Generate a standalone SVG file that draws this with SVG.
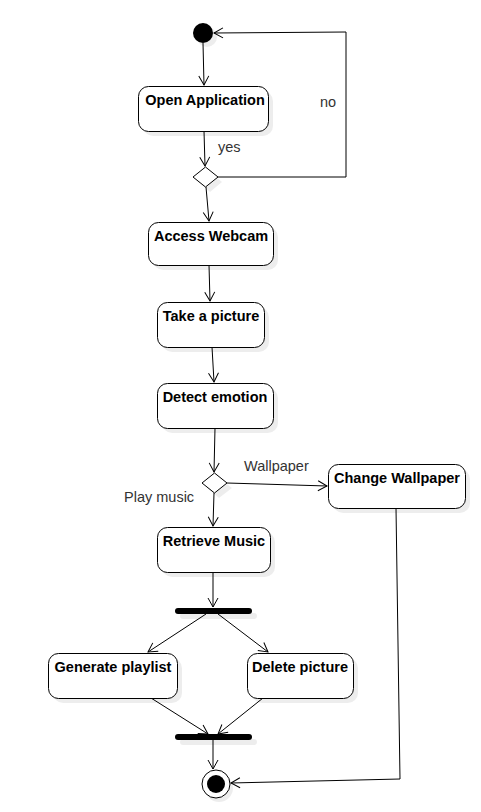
<svg xmlns="http://www.w3.org/2000/svg" width="481" height="812" viewBox="0 0 481 812">
<style>
.box{fill:#fff;stroke:#000;stroke-width:1}
.sh{fill:#000;opacity:0.07}
.t{font-family:"Liberation Sans",Arial,sans-serif;font-size:14.5px;font-weight:bold;fill:#000;text-anchor:middle}
.l{font-family:"Liberation Sans",Arial,sans-serif;font-size:14.5px;fill:#333}
.c{fill:none;stroke:#000;stroke-width:1}
</style>
<defs>
<marker id="a" markerWidth="12" markerHeight="12" refX="10" refY="6" orient="auto" markerUnits="userSpaceOnUse">
<path d="M1,1 L10,6 L1,11" fill="none" stroke="#000" stroke-width="1"/>
</marker>
</defs>
<rect width="481" height="812" fill="#fff"/>
<g id="connectors">
<path class="c" d="M203,43 L204,85" marker-end="url(#a)"/>
<path class="c" d="M204,131 L205,166" marker-end="url(#a)"/>
<path class="c" d="M218,177 L346,177 L346,32 L214,33" marker-end="url(#a)"/>
<path class="c" d="M206,187 L209,221" marker-end="url(#a)"/>
<path class="c" d="M209,265 L210,301" marker-end="url(#a)"/>
<path class="c" d="M212,347 L214,382" marker-end="url(#a)"/>
<path class="c" d="M215,428 L214,472" marker-end="url(#a)"/>
<path class="c" d="M227,483 L327,486" marker-end="url(#a)"/>
<path class="c" d="M214,493 L213,526" marker-end="url(#a)"/>
<path class="c" d="M213,572 L213,607" marker-end="url(#a)"/>
<path class="c" d="M206,614 L148,652" marker-end="url(#a)"/>
<path class="c" d="M218,614 L268,652" marker-end="url(#a)"/>
<path class="c" d="M151,698 L208,734" marker-end="url(#a)"/>
<path class="c" d="M263,698 L218,734" marker-end="url(#a)"/>
<path class="c" d="M213,740 L213,769" marker-end="url(#a)"/>
<path class="c" d="M396,508 L400,779 L231,783" marker-end="url(#a)"/>
<text class="l" x="218" y="152">yes</text>
<text class="l" x="320" y="107">no</text>
<text class="l" x="244" y="471">Wallpaper</text>
<text class="l" x="124" y="502">Play music</text>
</g>
<g id="start">
<circle cx="207" cy="37" r="10" class="sh"/>
<circle cx="203" cy="33" r="10" fill="#000"/>
</g>
<g id="open-application">
<rect class="sh" x="143" y="91" width="130" height="45" rx="10"/>
<rect class="box" x="138.5" y="86.5" width="130" height="45" rx="10"/>
<text class="t" x="205" y="105">Open Application</text>
</g>
<g id="decision1">
<path class="sh" d="M210,172 L222,182 L210,192 L198,182Z"/>
<path class="box" d="M205.5,167 L218,177 L205.5,187 L193,177Z"/>
</g>
<g id="access-webcam">
<rect class="sh" x="153" y="227" width="125" height="43" rx="10"/>
<rect class="box" x="148.5" y="222.5" width="125" height="43" rx="10"/>
<text class="t" x="211" y="241">Access Webcam</text>
</g>
<g id="take-picture">
<rect class="sh" x="162" y="307" width="107" height="45" rx="10"/>
<rect class="box" x="157.5" y="302.5" width="107" height="45" rx="10"/>
<text class="t" x="211" y="321">Take a picture</text>
</g>
<g id="detect-emotion">
<rect class="sh" x="162" y="388" width="116" height="45" rx="10"/>
<rect class="box" x="157.5" y="383.5" width="116" height="45" rx="10"/>
<text class="t" x="215" y="402">Detect emotion</text>
</g>
<g id="decision2">
<path class="sh" d="M219,478 L232,488 L219,498 L207,488Z"/>
<path class="box" d="M214.5,473 L227,483 L214.5,493 L202,483Z"/>
</g>
<g id="change-wallpaper">
<rect class="sh" x="333" y="469" width="137" height="44" rx="10"/>
<rect class="box" x="328.5" y="464.5" width="137" height="44" rx="10"/>
<text class="t" x="397" y="483">Change Wallpaper</text>
</g>
<g id="retrieve-music">
<rect class="sh" x="162" y="532" width="113" height="45" rx="10"/>
<rect class="box" x="157.5" y="527.5" width="113" height="45" rx="10"/>
<text class="t" x="214" y="546">Retrieve Music</text>
</g>
<g id="fork">
<rect class="sh" x="180" y="613" width="77" height="6" rx="3"/>
<rect x="175" y="608" width="77" height="6" rx="3" fill="#000"/>
</g>
<g id="generate-playlist">
<rect class="sh" x="53" y="658" width="129" height="45" rx="10"/>
<rect class="box" x="48.5" y="653.5" width="129" height="45" rx="10"/>
<text class="t" x="113" y="672">Generate playlist</text>
</g>
<g id="delete-picture">
<rect class="sh" x="252" y="658" width="106" height="45" rx="10"/>
<rect class="box" x="247.5" y="653.5" width="106" height="45" rx="10"/>
<text class="t" x="300" y="672">Delete picture</text>
</g>
<g id="join">
<rect class="sh" x="180" y="739" width="77" height="6" rx="3"/>
<rect x="175" y="734" width="77" height="6" rx="3" fill="#000"/>
</g>
<g id="end">
<circle cx="219" cy="788" r="14" class="sh"/>
<circle cx="216" cy="784" r="14" fill="#fff" stroke="#000" stroke-width="1"/>
<circle cx="216" cy="784" r="9" fill="#000"/>
</g>
</svg>
